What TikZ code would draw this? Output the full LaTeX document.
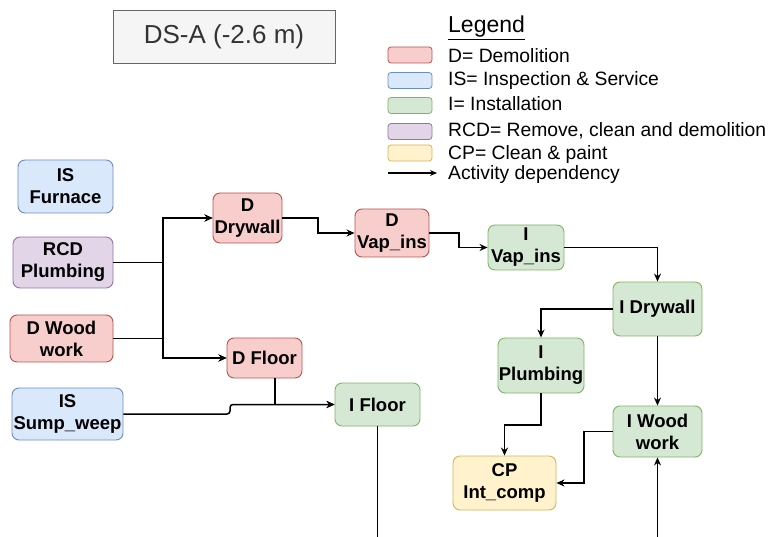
\documentclass[tikz,border=0pt]{standalone}
\usepackage{fontspec}
\setmainfont{Liberation Sans}
\usetikzlibrary{arrows.meta}
\definecolor{rfill}{HTML}{F8CECC}\definecolor{rline}{HTML}{B85450}
\definecolor{bfill}{HTML}{DAE8FC}\definecolor{bline}{HTML}{6C8EBF}
\definecolor{gfill}{HTML}{D5E8D4}\definecolor{gline}{HTML}{82B366}
\definecolor{pfill}{HTML}{E1D5E7}\definecolor{pline}{HTML}{9673A6}
\definecolor{yfill}{HTML}{FFF2CC}\definecolor{yline}{HTML}{D6B656}
\definecolor{tfill}{HTML}{F5F5F5}\definecolor{tline}{HTML}{666666}\definecolor{ttext}{HTML}{333333}
\tikzset{
  box/.style={rounded corners=7pt, line width=0.9pt, inner sep=0pt, align=center,
    font=\fontsize{18.5}{22}\selectfont\bfseries},
  red/.style={box, fill=rfill, draw=rline},
  blue/.style={box, fill=bfill, draw=bline},
  green/.style={box, fill=gfill, draw=gline},
  purple/.style={box, fill=pfill, draw=pline},
  yellow/.style={box, fill=yfill, draw=yline},
  arr/.style={line width=1.5pt, -{Stealth[length=8pt,width=7pt]}},
  ln/.style={line width=1.5pt},
  sw/.style={rounded corners=3pt, line width=0.8pt, minimum width=44pt, minimum height=16pt, inner sep=0pt},
  leg/.style={anchor=base west, inner sep=0pt, font=\fontsize{19.3}{22}\selectfont}
}
\begin{document}
\begin{tikzpicture}[x=1pt,y=-1pt]
\useasboundingbox (0,0) rectangle (774,537);
% title
\node[draw=tline, fill=tfill, line width=0.9pt, minimum width=222pt, minimum height=53pt, inner sep=0pt,
  text=ttext, font=\fontsize{26}{30}\selectfont] (title) at (224,36.5) {DS-A (-2.6 m)};
% legend
\node[leg, font=\fontsize{23}{26}\selectfont] (legt) at (448,33) {\underline{Legend}};
\node[sw, fill=rfill, draw=rline] (s1) at (410,55) {};
\node[sw, fill=bfill, draw=bline] (s2) at (410,80.5) {};
\node[sw, fill=gfill, draw=gline] (s3) at (410,105.5) {};
\node[sw, fill=pfill, draw=pline] (s4) at (410,131.5) {};
\node[sw, fill=yfill, draw=yline] (s5) at (410,153) {};
\node[leg] (l1) at (448,63) {D= Demolition};
\node[leg] (l2) at (448,86) {IS= Inspection \& Service};
\node[leg] (l3) at (448,111) {I= Installation};
\node[leg] (l4) at (448,137) {RCD= Remove, clean and demolition};
\node[leg] (l5) at (448,160) {CP= Clean \& paint};
\node[leg] (l6) at (448,180) {Activity dependency};
\coordinate (la) at (388,173);
\coordinate (lb) at (437,173);
\draw[line width=1.3pt, -{Stealth[length=7pt,width=6pt]}] (la) -- (lb);
% nodes
\node[blue, minimum width=95pt, minimum height=53pt] (isf) at (65.5,186.5) {IS\\Furnace};
\node[purple, minimum width=100pt, minimum height=51pt] (rcd) at (63,262.5) {RCD\\Plumbing};
\node[red, minimum width=103pt, minimum height=47pt] (dwood) at (61.5,338.5) {D Wood\\work};
\node[blue, minimum width=111pt, minimum height=52pt] (sump) at (67.5,414) {IS\\Sump\_weep};
\node[red, minimum width=69pt, minimum height=50pt] (ddry) at (247.5,218) {D\\Drywall};
\node[red, minimum width=75pt, minimum height=40pt] (dfloor) at (264.5,358) {D Floor};
\node[green, minimum width=85pt, minimum height=43pt] (ifloor) at (377.5,404.5) {I Floor};
\node[red, minimum width=74pt, minimum height=48pt] (dvap) at (392,233) {D\\Vap\_ins};
\node[green, minimum width=76pt, minimum height=45pt] (ivap) at (526,247.5) {I\\Vap\_ins};
\node[green, minimum width=89pt, minimum height=54pt] (idry) at (657.5,309) {I Drywall};
\node[green, minimum width=86pt, minimum height=55pt] (iplumb) at (541,365.5) {I\\Plumbing};
\node[green, minimum width=89pt, minimum height=51pt] (iwood) at (657.5,431.5) {I Wood\\work};
\node[yellow, minimum width=103pt, minimum height=54pt] (cp) at (504.5,483) {CP\\Int\_comp};
% connectors
\coordinate (j1) at (163,0);
\draw[arr] (rcd.east) -- (rcd.east -| j1) |- (ddry.west);
\draw[arr] (rcd.east) -- (rcd.east -| j1) |- (dfloor.west);
\draw[arr] (dwood.east) -- (dwood.east -| j1) |- (ddry.west);
\draw[arr] (dwood.east) -- (dwood.east -| j1) |- (dfloor.west);
\draw[arr, rounded corners=3pt] (sump.east) -- (230,414) -- (230,404.5) -- (ifloor.west);
\draw[arr] ([xshift=10.5pt]dfloor.south) |- (ifloor.west);
\draw[arr] (ddry.east) -- (318,218) |- (dvap.west);
\draw[arr] (dvap.east) -- (459,233) |- (ivap.west);
\draw[arr] (ivap.east) -| (idry.north);
\draw[arr] (idry.west) -| (iplumb.north);
\draw[arr] (idry.south) -- (iwood.north);
\draw[arr] (iplumb.south) -- (541,425) -| (cp.north);
\draw[arr] (iwood.west) -- (584,431.5) |- (cp.east);
\coordinate (bot1) at (657.5,537);
\coordinate (bot2) at (377.5,537);
\draw[arr] (bot1) -- (iwood.south);
\draw[ln] (ifloor.south) -- (bot2);
\end{tikzpicture}
\end{document}
